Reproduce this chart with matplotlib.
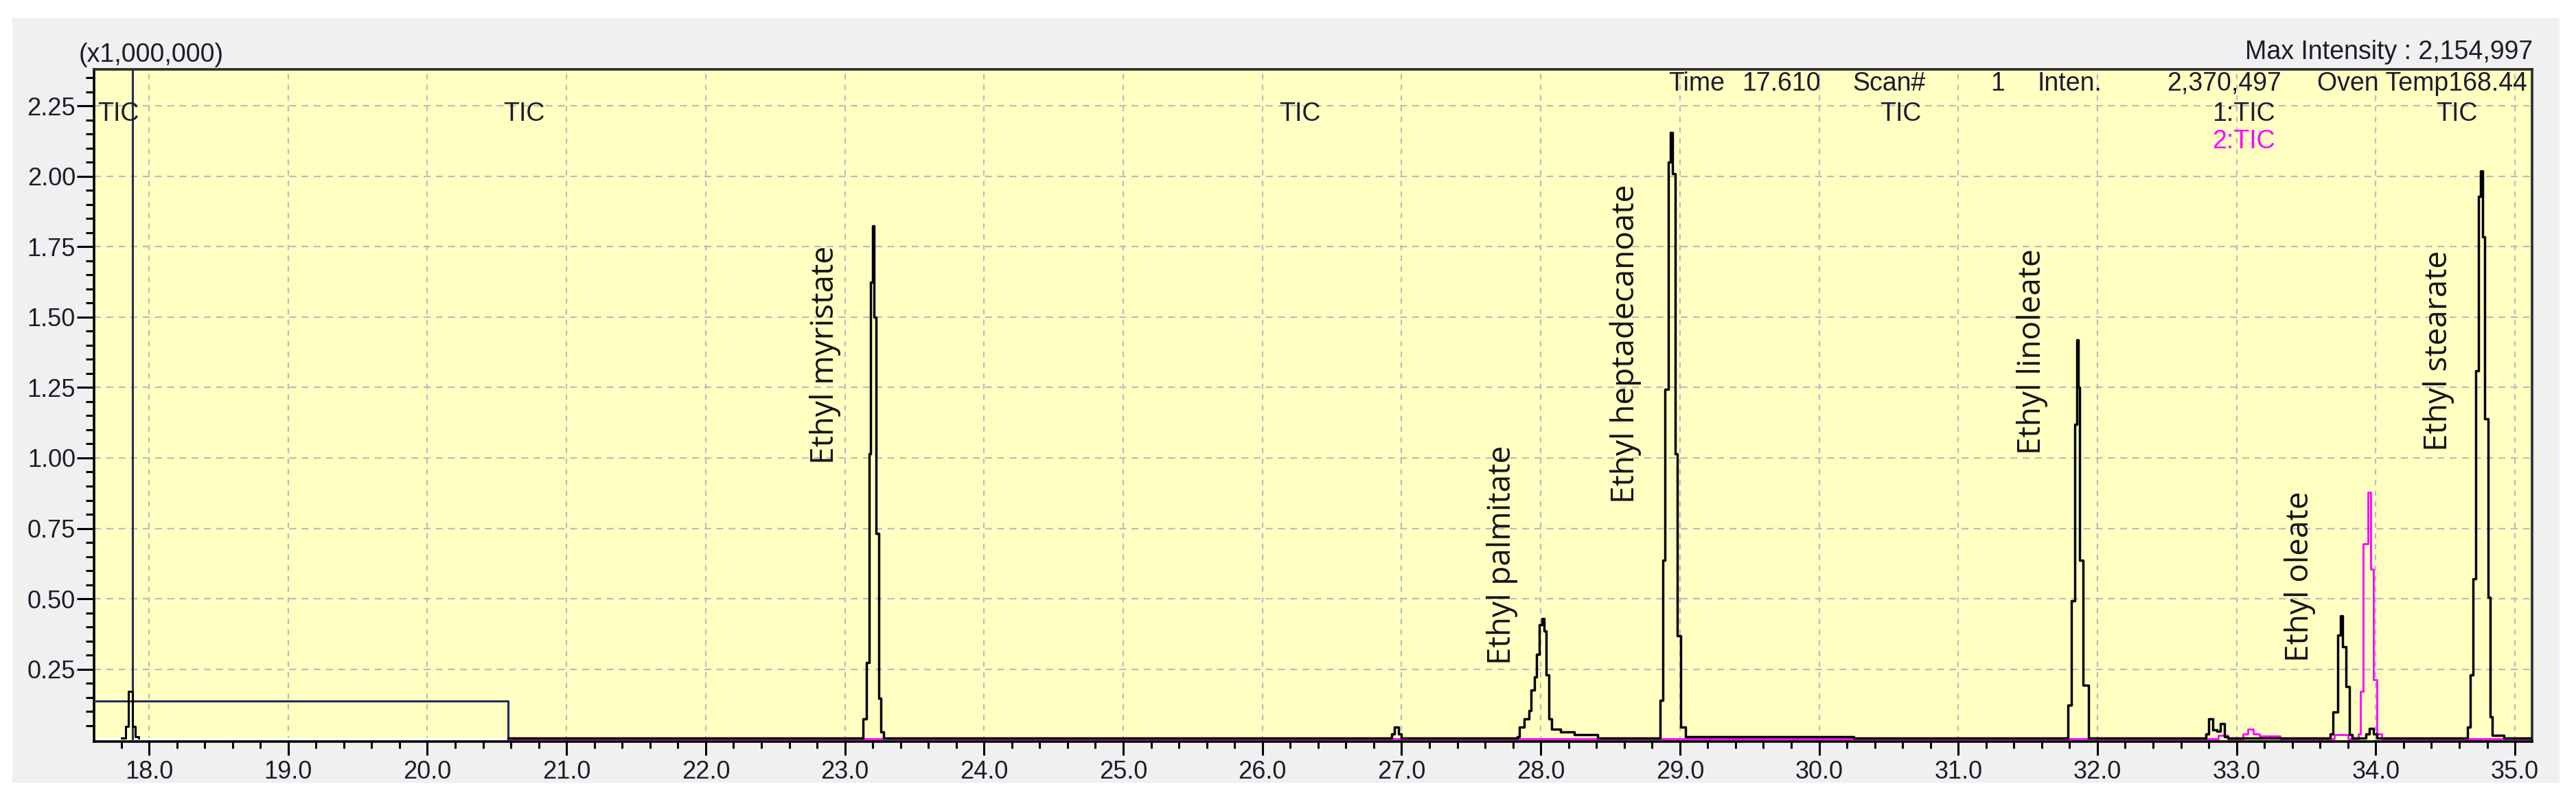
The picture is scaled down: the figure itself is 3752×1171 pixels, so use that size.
import numpy as np
import matplotlib.pyplot as plt
from matplotlib.patches import Rectangle

W, H = 3752, 1171

# ---- data (intensity in x1,000,000; time in min), step edges
pre_t = [17.80, 17.83, 17.852, 17.881, 17.901, 17.926]
pre_i = [0.004, 0.046, 0.17, 0.046, 0.010, 0.004]

base_t = [20.58, 26.93, 26.95, 26.98, 27.00]
base_i = [0.004, 0.020, 0.045, 0.020, 0.004]

myristate_t = [23.129, 23.154, 23.173, 23.186, 23.197, 23.208, 23.224, 23.244, 23.257, 23.277]
myristate_i = [0.074, 0.273, 1.015, 1.624, 1.823, 1.499, 0.731, 0.147, 0.028, 0.004]

palmitate_t = [27.83, 27.848, 27.881, 27.914, 27.930, 27.955, 27.972, 27.988, 28.008, 28.024,
               28.041, 28.057, 28.078, 28.144, 28.243, 28.408]
palmitate_i = [0.010, 0.044, 0.073, 0.103, 0.177, 0.222, 0.303, 0.407, 0.430, 0.385,
               0.230, 0.073, 0.037, 0.027, 0.017, 0.006]

heptadec_t = [28.860, 28.876, 28.893, 28.917, 28.934, 28.945, 28.967, 28.983, 29.008, 29.041, 30.25]
heptadec_i = [0.139, 0.636, 1.244, 2.050, 2.155, 2.010, 1.015, 0.369, 0.044, 0.009, 0.004]

linoleate_t = [31.789, 31.813, 31.838, 31.852, 31.862, 31.872, 31.895, 31.938]
linoleate_i = [0.123, 0.494, 1.120, 1.420, 1.250, 0.636, 0.193, 0.004]

minor_t = [32.78, 32.80, 32.83, 32.86, 32.885, 32.915, 32.94]
minor_i = [0.020, 0.073, 0.035, 0.030, 0.056, 0.010, 0.004]

oleate_t = [33.675, 33.693, 33.726, 33.745, 33.762, 33.786, 33.809, 33.83, 33.93, 33.955, 33.985, 34.01]
oleate_i = [0.020, 0.099, 0.372, 0.438, 0.330, 0.188, 0.017, 0.004, 0.020, 0.040, 0.020, 0.004]

stearate_t = [34.657, 34.681, 34.698, 34.719, 34.739, 34.755, 34.769, 34.785, 34.808, 34.821, 34.838, 34.920, 35.12]
stearate_i = [0.044, 0.230, 0.570, 1.310, 1.930, 2.020, 1.785, 1.140, 0.504, 0.081, 0.015, 0.006, 0.006]

tic2_t = [20.58, 32.87, 32.94, 33.046, 33.08, 33.12, 33.163, 33.312, 33.70, 33.80,
          33.875, 33.892, 33.910, 33.945, 33.965, 33.984, 34.007, 34.041, 35.12]
tic2_i = [0.002, 0.015, 0.002, 0.020, 0.038, 0.020, 0.012, 0.002, 0.017, 0.002,
          0.020, 0.172, 0.694, 0.878, 0.604, 0.213, 0.020, 0.002, 0.002]

compounds = ['Ethyl myristate', 'Ethyl palmitate', 'Ethyl heptadecanoate',
             'Ethyl linoleate', 'Ethyl oleate', 'Ethyl stearate']
label_pos = [(1202, 517), (2188, 808), (2368, 501), (2960, 512), (3350, 840), (3552, 511)]

rect_end = 20.58
rect_top = 0.137
cursor_t = 17.88

ui_font = ['Liberation Sans', 'DejaVu Sans']
lab_font = ['Open Sans', 'DejaVu Sans']
txt_col = '#1c1c2c'

tic1_t = base_t[:1] + myristate_t + base_t[1:] + palmitate_t + heptadec_t + linoleate_t + \
    minor_t + oleate_t + stearate_t
tic1_i = base_i[:1] + myristate_i + base_i[1:] + palmitate_i + heptadec_i + linoleate_i + \
    minor_i + oleate_i + stearate_i
order = np.argsort(tic1_t, kind='stable')
tic1_t = np.array(tic1_t)[order]
tic1_i = np.array(tic1_i)[order]

fig = plt.figure(figsize=(W / 100, H / 100), dpi=100)
fig.patches.append(Rectangle((18 / W, 1 - 1140 / H), (3728 - 18) / W, (1140 - 26) / H,
                             transform=fig.transFigure, facecolor='#f0f0f0',
                             edgecolor='none', zorder=-10))

ax = fig.add_axes([137 / W, 1 - 1080 / H, (3688 - 137) / W, (1080 - 101) / H])
ax.set_facecolor('#ffffc2')
ax.set_xlim(17.605, 35.123)
ax.set_ylim(-0.007, 2.38)

ax.set_xticks(np.arange(18, 35.5, 1.0))
ax.set_xticks(np.arange(17.8, 35.2, 0.2), minor=True)
ax.set_yticks(np.arange(0.25, 2.3, 0.25))
ax.set_yticks(np.arange(0.05, 2.38, 0.05), minor=True)
ax.xaxis.set_major_formatter(plt.FormatStrFormatter('%.1f'))
ax.yaxis.set_major_formatter(plt.FormatStrFormatter('%.2f'))

ax.tick_params(axis='x', which='major', length=14.5, width=2.2, pad=5, direction='out',
               labelsize=26, labelcolor=txt_col)
ax.tick_params(axis='x', which='minor', length=7.2, width=2.2, direction='out')
ax.tick_params(axis='y', which='major', length=18, width=2.2, pad=1.5, direction='out',
               labelsize=26, labelcolor=txt_col)
ax.tick_params(axis='y', which='minor', length=8.6, width=2.2, direction='out')
for lab in ax.get_xticklabels() + ax.get_yticklabels():
    lab.set_family(ui_font)

ax.grid(True, axis='y', which='major', color='#bcbcc4', lw=1.6, ls=(0, (4.5, 3.5)))
ax.grid(True, axis='x', which='major', color='#bcbcc4', lw=1.6, ls=(0, (3.5, 3.5)))
ax.set_axisbelow(True)

for side in ['left', 'bottom']:
    ax.spines[side].set_linewidth(2.6)
    ax.spines[side].set_color('black')
for side in ['top', 'right']:
    ax.spines[side].set_linewidth(2.6)
    ax.spines[side].set_color('#2a2a2a')

# rectangle marker, cursor line and blank baseline before the trace begins
ax.plot([17.605, rect_end], [0.003, 0.003], color='white', lw=2.5, zorder=2)
ax.plot([17.605, rect_end, rect_end], [rect_top, rect_top, 0.0], color='#262a5a', lw=2.2, zorder=3)
ax.axvline(cursor_t, color='#262a5a', lw=2.2, zorder=3)

ax.plot(tic2_t, tic2_i, drawstyle='steps-post', color='#ff00ff', lw=2.0, zorder=3)
ax.plot(pre_t, pre_i, drawstyle='steps-post', color='black', lw=2.2, zorder=4)
ax.plot(tic1_t, tic1_i, drawstyle='steps-post', color='black', lw=2.5, zorder=4)

# compound labels
for name, (px, py) in zip(compounds, label_pos):
    fig.text(px / W, 1 - py / H, name, rotation=90, ha='center', va='center',
             rotation_mode='anchor', fontsize=33, family=lab_font, color='#141414')

# instrument header texts
fs = 27
fig.text(115 / W, 1 - 80 / H, '(x1,000,000)', ha='left', va='center', fontsize=fs,
         family=ui_font, color=txt_col)
fig.text(3689 / W, 1 - 76 / H, 'Max Intensity : 2,154,997', ha='right', va='center',
         fontsize=fs, family=ui_font, color=txt_col)
header = [(2430, 'left', 'Time'), (2652, 'right', '17.610'), (2698, 'left', 'Scan#'),
          (2920, 'right', '1'), (2967, 'left', 'Inten.'), (3323, 'right', '2,370,497'),
          (3681, 'right', 'Oven Temp168.44')]
for px, ha, s in header:
    fig.text(px / W, 1 - 122 / H, s, ha=ha, va='center', fontsize=fs, family=ui_font,
             color=txt_col)
tic_labels = [(142, 'left', 'TIC'), (763, 'center', 'TIC'), (1893, 'center', 'TIC'),
              (2768, 'center', 'TIC'), (3314, 'right', '1:TIC'), (3578, 'center', 'TIC')]
for px, ha, s in tic_labels:
    fig.text(px / W, 1 - 166 / H, s, ha=ha, va='center', fontsize=fs, family=ui_font,
             color=txt_col)
fig.text(3314 / W, 1 - 206 / H, '2:TIC', ha='right', va='center', fontsize=fs,
         family=ui_font, color='#ff00ff')

plt.savefig('out.png', dpi=100, facecolor='white')
